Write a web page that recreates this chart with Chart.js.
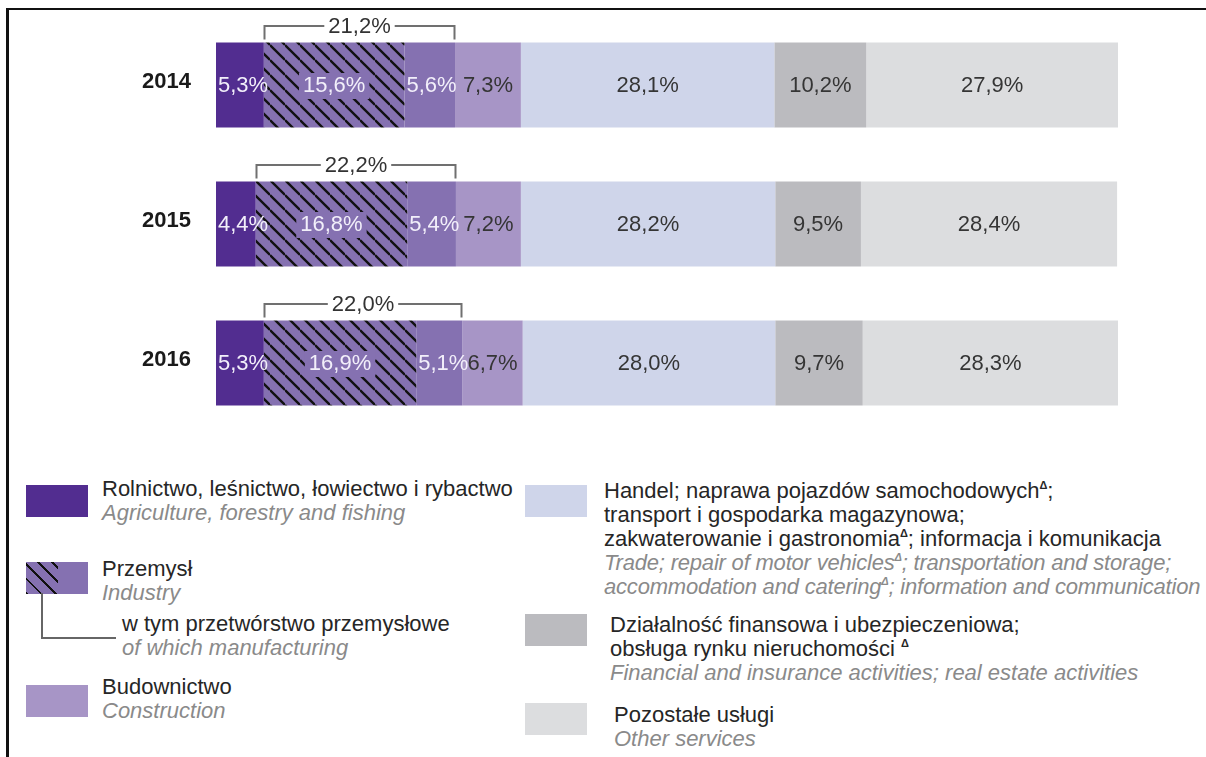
<!DOCTYPE html>
<html>
<head>
<meta charset="utf-8">
<script src="https://cdn.jsdelivr.net/npm/chart.js@4"></script>
<style>
  body { margin: 0; background: #fff; font-family: "Liberation Sans", Arial, sans-serif; }
  #wrap { position: relative; width: 1206px; height: 757px; overflow: hidden; }
  #frame { position: absolute; left: 6px; top: 8px; right: -10px; bottom: -10px; border-top: 2px solid #111; border-left: 3px solid #111; }
  #chart { position: absolute; left: 0; top: 0; }
  .sw { position: absolute; width: 62px; height: 32px; }
  .tx { position: absolute; font-size: 22px; line-height: 24px; color: #262626; white-space: nowrap; }
  .tx i { color: #8a8a8a; }
  .tight { letter-spacing: -0.2px; }
  sup { font-size: 11px; font-weight: bold; line-height: 0; vertical-align: 9px; }
  #link { position: absolute; left: 41px; top: 593px; width: 73px; height: 44px; border-left: 2px solid #666; border-bottom: 2px solid #666; }
</style>
</head>
<body>
<div id="wrap">
  <div id="frame"></div>
  <canvas id="chart" width="1206" height="440"></canvas>

  <!-- legend -->
  <div class="sw" style="left:26px;top:485px;background:#522d90"></div>
  <div class="tx" style="left:102px;top:477px">Rolnictwo, leśnictwo, łowiectwo i rybactwo<br><i>Agriculture, forestry and fishing</i></div>

  <div class="sw" style="left:26px;top:562px;background:#8571b1"></div>
  <div class="sw" style="left:26px;top:562px;width:32px;background:repeating-linear-gradient(45deg,#111 0 2px,#8571b1 2px 10px)"></div>
  <div id="link"></div>
  <div class="tx" style="left:102px;top:557px">Przemysł<br><i>Industry</i></div>
  <div class="tx" style="left:122px;top:612px">w tym przetwórstwo przemysłowe<br><i>of which manufacturing</i></div>

  <div class="sw" style="left:26px;top:685px;background:#a795c6"></div>
  <div class="tx" style="left:102px;top:675px">Budownictwo<br><i>Construction</i></div>

  <div class="sw" style="left:525px;top:485px;background:#cfd5ea"></div>
  <div class="tx" style="left:604px;top:479px">Handel; naprawa pojazdów samochodowych<sup>Δ</sup>;<br>transport i gospodarka magazynowa;<br>zakwaterowanie i gastronomia<sup>Δ</sup>; informacja i komunikacja<br><i class="tight">Trade; repair of motor vehicles<sup>Δ</sup>; transportation and storage;<br>accommodation and catering<sup>Δ</sup>; information and communication</i></div>

  <div class="sw" style="left:525px;top:614px;background:#bbbbbf"></div>
  <div class="tx" style="left:610px;top:613px">Działalność finansowa i ubezpieczeniowa;<br>obsługa rynku nieruchomości <sup>Δ</sup><br><i>Financial and insurance activities; real estate activities</i></div>

  <div class="sw" style="left:525px;top:703px;background:#dcdddf"></div>
  <div class="tx" style="left:614px;top:703px">Pozostałe usługi<br><i>Other services</i></div>
</div>

<script>
// shares of gross value added, %
const years = ['2014', '2015', '2016'];
const agriculture = [5.3, 4.4, 5.3];
const manufacturing = [15.6, 16.8, 16.9];
const industryOther = [5.6, 5.4, 5.1];
const construction = [7.3, 7.2, 6.7];
const trade = [28.1, 28.2, 28.0];
const finance = [10.2, 9.5, 9.7];
const otherServices = [27.9, 28.4, 28.3];
const industryTotal = [21.2, 22.2, 22.0];

const INDUSTRY = '#8571b1';
const FONT = '"Liberation Sans", Arial, sans-serif';
const LIGHT = '#f2effa';
const DARK = '#353535';

const fmt = v => v.toFixed(1).replace('.', ',') + '%';

// diagonal hatch for manufacturing
const makeHatch = () => {
    const p = 15;
    const c = document.createElement('canvas');
    c.width = p; c.height = p;
    const g = c.getContext('2d');
    g.fillStyle = INDUSTRY;
    g.fillRect(0, 0, p, p);
    g.strokeStyle = '#111';
    g.lineWidth = 2.3;
    [-p, 0, p].forEach(o => {
        g.beginPath();
        g.moveTo(0, o);
        g.lineTo(p, o + p);
        g.stroke();
    });
    return g.createPattern(c, 'repeat');
};

// label x: centred, but never sticking out on the left of the segment
const labelX = (ctx, bar, text) => {
    const w = ctx.measureText(text).width;
    return Math.max((bar.x + bar.base) / 2, bar.base + 2 + w / 2);
};

const segmentLabels = {
    id: 'segmentLabels',
    afterDatasetsDraw(chart) {
        const ctx = chart.ctx;
        ctx.save();
        ctx.font = '22px ' + FONT;
        ctx.textAlign = 'center';
        ctx.textBaseline = 'middle';
        // clear hatch behind its labels first
        chart.data.datasets.forEach((ds, i) => {
            if (!ds.hatched) return;
            chart.getDatasetMeta(i).data.forEach((bar, j) => {
                const text = fmt(ds.data[j]);
                const w = ctx.measureText(text).width;
                const cx = labelX(ctx, bar, text);
                const l = Math.max(bar.base, cx - w / 2 - 4);
                const r = Math.min(bar.x, cx + w / 2 + 4);
                ctx.fillStyle = INDUSTRY;
                ctx.fillRect(l, bar.y - 12, r - l, 26);
            });
        });
        chart.data.datasets.forEach((ds, i) => {
            chart.getDatasetMeta(i).data.forEach((bar, j) => {
                const text = fmt(ds.data[j]);
                ctx.fillStyle = ds.labelColor;
                ctx.fillText(text, labelX(ctx, bar, text), bar.y + 1);
            });
        });
        ctx.restore();
    }
};

const industryBracket = {
    id: 'industryBracket',
    afterDatasetsDraw(chart) {
        const ctx = chart.ctx;
        const startBars = chart.getDatasetMeta(1).data;
        const endBars = chart.getDatasetMeta(2).data;
        ctx.save();
        ctx.font = '22px ' + FONT;
        ctx.textAlign = 'center';
        ctx.textBaseline = 'middle';
        years.forEach((yr, j) => {
            const x0 = Math.round(startBars[j].base) + 0.5;
            const x1 = Math.round(endBars[j].x) - 0.5;
            const top = startBars[j].y - startBars[j].height / 2;
            const ly = Math.round(top - 16);
            ctx.strokeStyle = '#707070';
            ctx.lineWidth = 2;
            ctx.beginPath();
            ctx.moveTo(x0, top - 3);
            ctx.lineTo(x0, ly);
            ctx.lineTo(x1, ly);
            ctx.lineTo(x1, top - 3);
            ctx.stroke();
            const text = fmt(industryTotal[j]);
            const w = ctx.measureText(text).width;
            const cx = (x0 + x1) / 2;
            ctx.fillStyle = '#fff';
            ctx.fillRect(cx - w / 2 - 4, ly - 11, w + 8, 22);
            ctx.fillStyle = '#333';
            ctx.fillText(text, cx, ly + 1);
        });
        ctx.restore();
    }
};

const series = [
    { data: agriculture, backgroundColor: '#522d90', labelColor: LIGHT },
    { data: manufacturing, backgroundColor: makeHatch(), labelColor: LIGHT, hatched: true },
    { data: industryOther, backgroundColor: INDUSTRY, labelColor: LIGHT },
    { data: construction, backgroundColor: '#a795c6', labelColor: DARK },
    { data: trade, backgroundColor: '#cfd5ea', labelColor: DARK },
    { data: finance, backgroundColor: '#bbbbbf', labelColor: DARK },
    { data: otherServices, backgroundColor: '#dcdddf', labelColor: DARK }
];

new Chart(document.getElementById('chart'), {
    type: 'bar',
    data: {
        labels: years,
        datasets: series.map(s => ({
            ...s,
            borderWidth: 0,
            barPercentage: 0.612,
            categoryPercentage: 1
        }))
    },
    options: {
        indexAxis: 'y',
        responsive: false,
        animation: false,
        events: [],
        layout: { padding: { top: 15.5, bottom: 7.5, left: 0, right: 88 } },
        plugins: { legend: { display: false }, tooltip: { enabled: false } },
        scales: {
            x: { stacked: true, min: 0, max: 100, display: false },
            y: {
                stacked: true,
                grid: { display: false, drawTicks: false },
                border: { display: false },
                ticks: {
                    padding: 25,
                    labelOffset: -3,
                    color: '#1a1a1a',
                    font: { family: FONT, size: 22, weight: 'bold' }
                },
                afterFit: scale => {
                    scale.width = 216;
                    scale.paddingTop = 0;
                    scale.paddingBottom = 0;
                }
            }
        }
    },
    plugins: [segmentLabels, industryBracket]
});
</script>
</body>
</html>
